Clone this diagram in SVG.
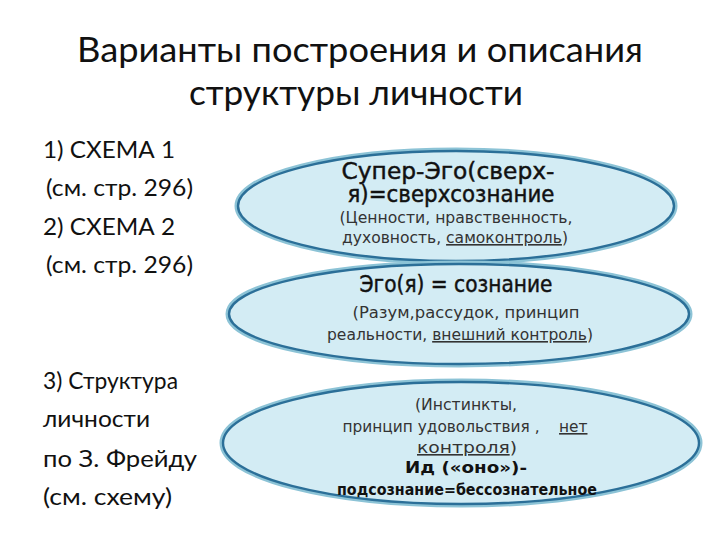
<svg xmlns="http://www.w3.org/2000/svg" width="720" height="540" viewBox="0 0 720 540">
<style>
.title{font-family:Lato,"Open Sans",sans-serif;font-size:34px;fill:#111;text-anchor:middle}
.left{font-family:Lato,"Open Sans",sans-serif;font-size:23px;fill:#111}
.ell-out{fill:none;stroke:#8cc3d6;stroke-width:7}
.ell{fill:#d3ecf4;stroke:#2b6f98;stroke-width:2.4}
.hd{font-family:"DejaVu Sans",sans-serif;font-size:22.5px;fill:#111;text-anchor:middle;stroke:#111;stroke-width:0.45}
.sm{font-family:"DejaVu Sans",sans-serif;font-size:16px;fill:#333;text-anchor:middle}
.bd{font-family:"DejaVu Sans",sans-serif;font-size:15.5px;fill:#111;text-anchor:middle;font-weight:bold}
.u{text-decoration:underline}
</style>
<rect width="720" height="540" fill="#ffffff"/>
<g id="title">
<text class="title" x="360" y="62" textLength="566" lengthAdjust="spacingAndGlyphs">Варианты построения и описания</text>
<text class="title" x="356" y="105" textLength="334" lengthAdjust="spacingAndGlyphs">структуры личности</text>
</g>
<g id="left-list">
<text class="left" x="43" y="158" textLength="132" lengthAdjust="spacingAndGlyphs">1) СХЕМА 1</text>
<text class="left" x="46" y="196" textLength="147" lengthAdjust="spacingAndGlyphs">(см. стр. 296)</text>
<text class="left" x="43" y="235" textLength="132" lengthAdjust="spacingAndGlyphs">2) СХЕМА 2</text>
<text class="left" x="46" y="273" textLength="147" lengthAdjust="spacingAndGlyphs">(см. стр. 296)</text>
<text class="left" x="43" y="389" textLength="135" lengthAdjust="spacingAndGlyphs">3) Структура</text>
<text class="left" x="43" y="427" textLength="107" lengthAdjust="spacingAndGlyphs">личности</text>
<text class="left" x="43" y="467" textLength="154" lengthAdjust="spacingAndGlyphs">по З. Фрейду</text>
<text class="left" x="43" y="505" textLength="129" lengthAdjust="spacingAndGlyphs">(см. схему)</text>
</g>
<g id="superego">
<ellipse class="ell-out" cx="456" cy="206" rx="218" ry="55"/>
<ellipse class="ell" cx="456" cy="206" rx="218" ry="55"/>
<text class="hd" x="448" y="179" textLength="213" lengthAdjust="spacingAndGlyphs">Супер-Эго(сверх-</text>
<text class="hd" x="451" y="202" textLength="207" lengthAdjust="spacingAndGlyphs">я)=сверхсознание</text>
<text class="sm" x="456" y="223" textLength="233" lengthAdjust="spacingAndGlyphs">(Ценности, нравственность,</text>
<text class="sm" x="455" y="243" textLength="226" lengthAdjust="spacingAndGlyphs">духовность, <tspan class="u">самоконтроль</tspan>)</text>
</g>
<g id="ego">
<ellipse class="ell-out" cx="459" cy="314" rx="230" ry="50"/>
<ellipse class="ell" cx="459" cy="314" rx="230" ry="50"/>
<text class="hd" x="456" y="292" textLength="193" lengthAdjust="spacingAndGlyphs">Эго(я) = сознание</text>
<text class="sm" x="466" y="318" textLength="227" lengthAdjust="spacingAndGlyphs">(Разум,рассудок, принцип</text>
<text class="sm" x="460" y="340" textLength="266" lengthAdjust="spacingAndGlyphs">реальности, <tspan class="u">внешний контроль</tspan>)</text>
</g>
<g id="id">
<ellipse class="ell-out" cx="461" cy="443" rx="238" ry="61"/>
<ellipse class="ell" cx="461" cy="443" rx="238" ry="61"/>
<text class="sm" x="466" y="410" textLength="102" lengthAdjust="spacingAndGlyphs">(Инстинкты,</text>
<text class="sm" x="465" y="432" xml:space="preserve" textLength="245" lengthAdjust="spacingAndGlyphs">принцип удовольствия ,    <tspan class="u">нет</tspan></text>
<text class="sm" x="467" y="453" textLength="100" lengthAdjust="spacingAndGlyphs"><tspan class="u">контроля</tspan>)</text>
<text class="bd" x="466" y="473" textLength="122" lengthAdjust="spacingAndGlyphs">Ид («оно»)-</text>
<text class="bd" x="467" y="495" textLength="260" lengthAdjust="spacingAndGlyphs">подсознание=бессознательное</text>
</g>
<g id="connectors"/>
</svg>
